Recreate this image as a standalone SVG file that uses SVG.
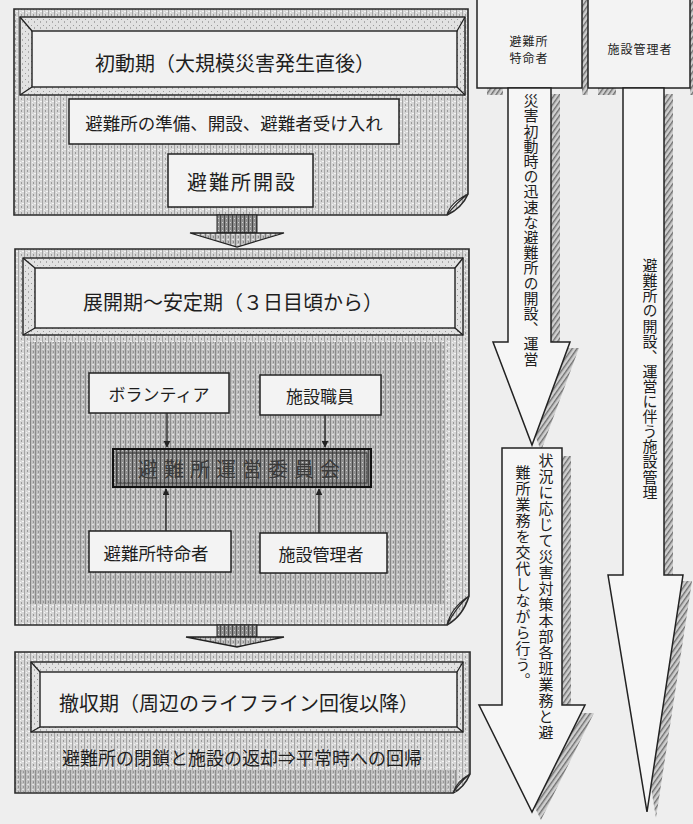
<svg xmlns="http://www.w3.org/2000/svg" width="693" height="824" viewBox="0 0 693 824">
<defs>
<pattern id="ht" width="6" height="6" patternUnits="userSpaceOnUse">
<rect width="6" height="6" fill="#d6d6d6"/>
<rect x="0" y="0" width="1" height="6" fill="#a4a4a4"/>
<rect x="3" y="2" width="1" height="2" fill="#999"/>
<rect x="4" y="5" width="2" height="1" fill="#f4f4f4"/>
<rect x="2" y="0" width="1" height="1" fill="#f4f4f4"/>
</pattern>
<pattern id="htd" width="5" height="5" patternUnits="userSpaceOnUse">
<rect width="5" height="5" fill="#bcbcbc"/>
<rect x="0" y="0" width="1" height="5" fill="#7d7d7d"/>
<rect x="3" y="1" width="1" height="2" fill="#8a8a8a"/>
<rect x="2" y="4" width="2" height="1" fill="#e6e6e6"/>
</pattern>
<pattern id="htl" width="6" height="6" patternUnits="userSpaceOnUse">
<rect width="6" height="6" fill="#e2e2e2"/>
<rect x="1" y="1" width="1" height="1" fill="#9a9a9a"/>
<rect x="4" y="3" width="1" height="2" fill="#aaa"/>
</pattern>
<pattern id="diag" width="4" height="4" patternUnits="userSpaceOnUse" patternTransform="rotate(35)">
<rect width="4" height="4" fill="#cfcfcf"/>
<rect x="0" y="0" width="1.4" height="4" fill="#6f6f6f"/>
</pattern>
<pattern id="dk" width="4" height="4" patternUnits="userSpaceOnUse">
<rect width="4" height="4" fill="#8c8c8c"/>
<rect x="0" y="0" width="1" height="4" fill="#4a4a4a"/>
<rect x="2" y="2" width="1" height="1" fill="#d0d0d0"/>
</pattern>
<marker id="ah" viewBox="0 0 10 10" refX="9" refY="5" markerWidth="7" markerHeight="7" orient="auto" markerUnits="userSpaceOnUse">
<path d="M0,0 L10,5 L0,10 Z" fill="#222"/>
</marker>
</defs>
<style>
.t{font-family:"Noto Sans CJK JP","Noto Sans CJK SC",sans-serif;fill:#1e1e1e}
.box{fill:#f3f3f3;stroke:#222;stroke-width:1.5}
.ln{stroke:#222;stroke-width:1.3;fill:none}
.panel{stroke:#2a2a2a;stroke-width:1.6}
.bev{fill:url(#htl);stroke:#222;stroke-width:1.4}
.bin{fill:#f1f1f1;stroke:#222;stroke-width:1.4}
.arr{fill:#f6f6f6;stroke:#222;stroke-width:1.5}
.sh{fill:url(#diag)}
.v{writing-mode:vertical-rl;text-orientation:upright}
</style>
<rect width="693" height="824" fill="#eeeeee"/>

<!-- Phase 1 -->
<g id="phase1">
<path class="panel" d="M14,9 H468 V194 Q462,208 447,215 H14 Z" fill="url(#ht)"/>
<path d="M447,215 Q450,203 468,194 Q456,203 447,215 Z" fill="#f2f2f2" stroke="#2a2a2a" stroke-width="1.2"/>
<rect class="bev" x="20" y="17" width="445" height="78"/>
<rect class="bin" x="32" y="31" width="425" height="56"/>
<path class="ln" d="M20,17 L32,31 M465,17 L457,31 M20,95 L32,87 M465,95 L457,87"/>
<text class="t" x="235" y="62" font-size="20" text-anchor="middle" dominant-baseline="central">初動期（大規模災害発生直後）</text>
</g>
<g id="prep">
<rect class="box" x="69" y="99" width="330" height="45"/>
<text class="t" x="234" y="122" font-size="17.5" text-anchor="middle" dominant-baseline="central">避難所の準備、開設、避難者受け入れ</text>
</g>
<g id="open">
<rect class="box" x="168" y="154" width="145" height="53"/>
<text class="t" x="242" y="181" font-size="20" letter-spacing="2" text-anchor="middle" dominant-baseline="central">避難所開設</text>
</g>

<!-- Phase 2 -->
<g id="phase2">
<path class="panel" d="M15,249 H469 V596 Q463,616 447,625 H15 Z" fill="url(#ht)"/>
<rect x="30" y="342" width="414" height="262" fill="url(#htd)" opacity="0.85"/>
<path d="M447,625 Q451,608 469,596 Q456,607 447,625 Z" fill="#f2f2f2" stroke="#2a2a2a" stroke-width="1.2"/>
<rect class="bev" x="23" y="258" width="440" height="77"/>
<rect class="bin" x="35" y="268" width="420" height="60"/>
<path class="ln" d="M23,258 L35,268 M463,258 L455,268 M23,335 L35,328 M463,335 L455,328"/>
<text class="t" x="233" y="301" font-size="20" text-anchor="middle" dominant-baseline="central">展開期～安定期（３日目頃から）</text>
</g>
<g id="volunteer">
<rect class="box" x="89" y="373" width="140" height="40"/>
<text class="t" x="159" y="393" font-size="17" text-anchor="middle" dominant-baseline="central">ボランティア</text>
</g>
<g id="staff">
<rect class="box" x="260" y="375" width="121" height="40"/>
<text class="t" x="320" y="395" font-size="17" text-anchor="middle" dominant-baseline="central">施設職員</text>
</g>
<g id="committee">
<rect x="113" y="449" width="258" height="38" fill="url(#dk)" stroke="#111" stroke-width="2"/>
<rect x="117" y="453" width="250" height="30" fill="none" stroke="#333" stroke-width="1"/>
<text class="t" x="242" y="468" font-size="20" letter-spacing="6" text-anchor="middle" dominant-baseline="central" style="fill:#3a3a3a">避難所運営委員会</text>
</g>
<g id="special">
<rect class="box" x="89" y="531" width="142" height="41"/>
<text class="t" x="156" y="552" font-size="17.5" text-anchor="middle" dominant-baseline="central">避難所特命者</text>
</g>
<g id="manager">
<rect class="box" x="260" y="533" width="127" height="40"/>
<text class="t" x="321" y="553" font-size="17" text-anchor="middle" dominant-baseline="central">施設管理者</text>
</g>

<!-- Phase 3 -->
<g id="phase3">
<path class="panel" d="M15,652 H470 V774 Q464,788 453,793 H15 Z" fill="url(#ht)"/>
<rect x="16" y="770" width="440" height="22" fill="url(#htd)" opacity="0.8"/>
<path d="M453,793 Q456,782 470,774 Q460,782 453,793 Z" fill="#f2f2f2" stroke="#2a2a2a" stroke-width="1.2"/>
<rect class="bev" x="31" y="662" width="432" height="70"/>
<rect class="bin" x="40" y="672" width="417" height="55"/>
<path class="ln" d="M31,662 L40,672 M463,662 L457,672 M31,732 L40,727 M463,732 L457,727"/>
<text class="t" x="239" y="702" font-size="20" text-anchor="middle" dominant-baseline="central">撤収期（周辺のライフライン回復以降）</text>
<text class="t" x="242" y="757" font-size="18" text-anchor="middle" dominant-baseline="central">避難所の閉鎖と施設の返却⇒平常時への回帰</text>
</g>

<!-- Right column boxes -->
<g id="role-special">
<rect x="582" y="0" width="6" height="95" class="sh"/>
<rect x="487" y="88" width="16" height="7" class="sh"/>
<rect class="box" x="477" y="-2" width="105" height="90"/>
<text class="t" x="529" y="40" font-size="12" letter-spacing="1" text-anchor="middle" dominant-baseline="central">避難所</text>
<text class="t" x="529" y="57" font-size="12" letter-spacing="1" text-anchor="middle" dominant-baseline="central">特命者</text>
</g>
<g id="role-manager">
<rect x="690" y="0" width="3" height="95" class="sh"/>
<rect x="598" y="88" width="18" height="7" class="sh"/>
<rect class="box" x="588" y="-2" width="102" height="90"/>
<text class="t" x="640" y="48" font-size="12" letter-spacing="1" text-anchor="middle" dominant-baseline="central">施設管理者</text>
</g>

<!-- Connectors -->
<g id="connectors">
<!-- phase transition arrows -->
<rect x="217" y="215" width="40" height="18" fill="url(#dk)" stroke="#222" stroke-width="1"/>
<polygon points="190,233 284,233 237,247" fill="url(#htd)" stroke="#222" stroke-width="1.3"/>
<rect x="217" y="625" width="40" height="12" fill="url(#dk)" stroke="#222" stroke-width="1"/>
<polygon points="186,637 284,637 237,647" fill="url(#htd)" stroke="#222" stroke-width="1.3"/>
<!-- inner arrows -->
<line class="ln" x1="167" y1="413" x2="167" y2="447" marker-end="url(#ah)"/>
<line class="ln" x1="325" y1="415" x2="325" y2="447" marker-end="url(#ah)"/>
<line class="ln" x1="166" y1="531" x2="166" y2="489" marker-end="url(#ah)"/>
<line class="ln" x1="319" y1="533" x2="319" y2="489" marker-end="url(#ah)"/>
<!-- big arrow 1 -->
<polygon class="sh" points="517,94 560,94 560,348 579,348 541,451 502,348 517,348"/>
<polygon class="arr" points="508,88 551,88 551,342 570,342 532,445 493,342 508,342"/>
<!-- big arrow 2 -->
<polygon class="sh" points="511,456 571,456 571,713 594,713 541,820 488,713 511,713"/>
<polygon class="arr" points="502,448 562,448 562,705 585,705 532,812 479,705 502,705"/>
<!-- big arrow 3 -->
<polygon class="sh" points="632,94 673,94 673,581 692,581 656,818 617,581 632,581"/>
<polygon class="arr" points="623,88 664,88 664,575 683,575 647,812 608,575 623,575"/>
</g>

<g id="arrow-texts">
<text class="t v" x="531" y="93" font-size="15" letter-spacing="0.2">災害初動時の迅速な避難所の開設、運営</text>
<text class="t v" x="546" y="453" font-size="15" letter-spacing="1">状況に応じて災害対策本部各班業務と避</text>
<text class="t v" x="523" y="465" font-size="15" letter-spacing="1">難所業務を交代しながら行う。</text>
<text class="t v" x="650" y="258" font-size="15" letter-spacing="0.1">避難所の開設、運営に伴う施設管理</text>
</g>
</svg>
